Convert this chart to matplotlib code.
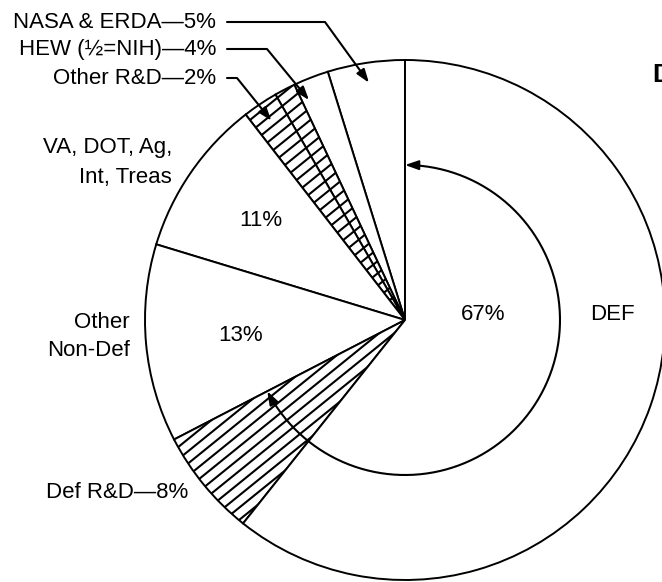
import numpy as np
import matplotlib.pyplot as plt
from matplotlib.patches import FancyArrowPatch
from matplotlib.path import Path

plt.rcParams['font.family'] = ['Liberation Sans', 'DejaVu Sans']

W, H = 662, 582

# Wedges, counter-clockwise from 12 o'clock, with their share of the circle as drawn (%)
segments = ["NASA & ERDA", "HEW", "HEW (NIH)", "Other R&D",
            "VA, DOT, Ag, Int, Treas", "Other Non-Def", "Def R&D", "DEF"]
shares = [4.8, 2.2, 1.3, 2.2, 9.8, 12.3, 6.7, 60.7]
hatched = [False, False, True, True, False, False, True, False]

# Printed labels
top_labels = ["NASA & ERDA\u20145%", "HEW (\u00bd=NIH)\u20144%", "Other R&D\u20142%"]
top_targets = [[0], [1, 2], [3]]
va_pct = "11%"
nondef_pct = "13%"
def_pct = "67%"
defrd_label = "Def R&D\u20148%"


def py(y):
    # pixel row (from top) -> data y
    return H - y


fig = plt.figure(figsize=(W / 100, H / 100), dpi=100)
ax = fig.add_axes([0, 0, 1, 1])

cx, cy = 405, py(320)
R = 260

wedges, _ = ax.pie(shares, startangle=90, counterclock=True, center=(cx, cy),
                   radius=R,
                   wedgeprops=dict(facecolor='white', edgecolor='black',
                                   linewidth=1.4))

ax.set_xlim(0, W)
ax.set_ylim(0, H)
ax.set_aspect('equal')
ax.axis('off')


def hatch_wedge(w, angle=39, spacing=9.5, lw=1.5):
    a = np.deg2rad(angle)
    d = np.array([np.cos(a), np.sin(a)])
    n = np.array([-np.sin(a), np.cos(a)])
    for o in np.arange(-R, R, spacing):
        p0 = np.array([cx, cy]) + n * o - d * R
        p1 = np.array([cx, cy]) + n * o + d * R
        ln, = ax.plot([p0[0], p1[0]], [p0[1], p1[1]], color='black', lw=lw,
                      solid_capstyle='butt')
        ln.set_clip_path(w)


for w, h in zip(wedges, hatched):
    if h:
        hatch_wedge(w)


def polar(r, ang):
    a = np.deg2rad(ang)
    return cx + r * np.cos(a), cy + r * np.sin(a)


def mid(idx):
    return (wedges[idx[0]].theta1 + wedges[idx[-1]].theta2) / 2


fs = 16
astyle = '-|>,head_length=0.8,head_width=0.28'

# top-left labels with leader arrows
label_rows = [22, 49, 78]
knees = [325, 267, 237]
for txt, row, knee, idx in zip(top_labels, label_rows, knees, top_targets):
    ax.text(216, py(row), txt, ha='right', va='center', fontsize=fs)
    tip = polar(240, mid(idx))
    verts = [(227, py(row)), (knee, py(row)), tip]
    ax.add_patch(FancyArrowPatch(path=Path(verts), arrowstyle=astyle,
                                 color='black', lw=1.5, mutation_scale=10))

# VA wedge
ax.text(172, py(148), "VA, DOT, Ag,", ha='right', va='center', fontsize=fs)
ax.text(172, py(178), "Int, Treas", ha='right', va='center', fontsize=fs)
x, y = polar(175, mid([4]))
ax.text(x, y, va_pct, ha='center', va='center', fontsize=fs)

# Other Non-Def wedge
ax.text(130, py(322), "Other", ha='right', va='center', fontsize=fs)
ax.text(130, py(350), "Non-Def", ha='right', va='center', fontsize=fs)
x, y = polar(165, mid([5]))
ax.text(x, y, nondef_pct, ha='center', va='center', fontsize=fs)

# Def R&D
ax.text(188, py(492), defrd_label, ha='right', va='center', fontsize=fs)

# DEF total arc (Def R&D + DEF)
r_in = 155
th = np.linspace(wedges[6].theta1, wedges[7].theta2, 200)
arc = [polar(r_in, t) for t in th]
ax.add_patch(FancyArrowPatch(path=Path(arc),
                             arrowstyle='<|-|>,head_length=0.8,head_width=0.28',
                             color='black', lw=1.5, mutation_scale=10))
ax.text(cx + 78, cy + 5, def_pct, ha='center', va='center', fontsize=fs)
ax.text(cx + 207, cy + 5, "DEF", ha='center', va='center', fontsize=fs)

# clipped heading at the right edge (cut off in the source too)
ax.text(652, py(82), "D", ha='left', va='baseline', fontsize=19,
        fontweight='bold')

fig.savefig("out.png", dpi=100)
